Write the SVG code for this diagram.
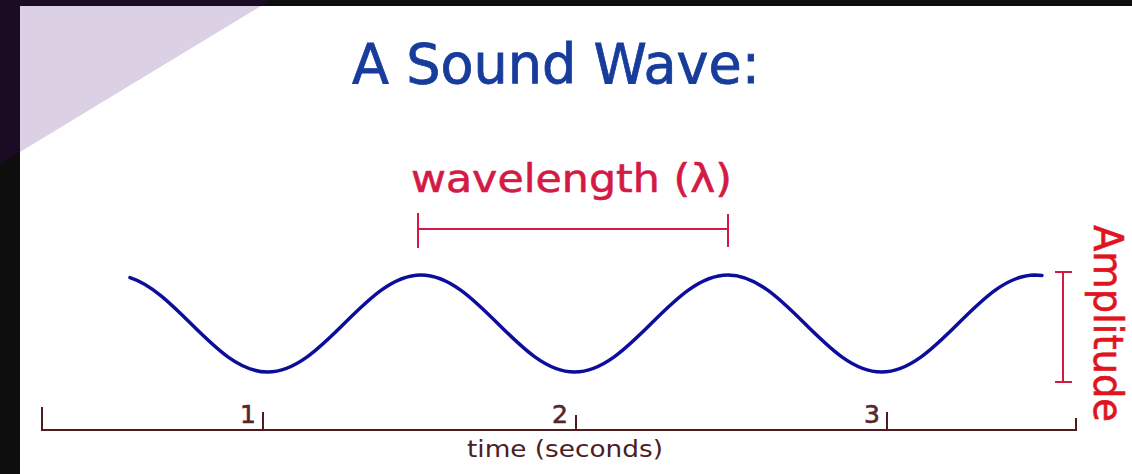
<svg xmlns="http://www.w3.org/2000/svg" width="1132" height="474" viewBox="0 0 1132 474">
  <style>
    .lbl { font-family: "DejaVu Sans", "Liberation Sans", sans-serif; }
    .red { stroke: #d31a45; stroke-width: 2; fill: none; }
    .axis { stroke: #4e1c1f; stroke-width: 2; fill: none; stroke-linecap: square; }
    .num { font-size: 25px; fill: #55262b; text-anchor: middle; }
  </style>
  <g id="background">
    <rect x="0" y="0" width="1132" height="474" fill="#0e0e0e"/>
    <polygon points="0,0 270,0 0,164" fill="#1b0b23"/>
    <rect x="20" y="6" width="1112" height="468" fill="#ffffff"/>
    <polygon points="20,6 261,6 20,152" fill="#dcd0e5"/>
  </g>
  <g id="title">
    <text class="lbl" x="352" y="83" font-size="55" fill="#173c9c" stroke="#173c9c" stroke-width="0.8" textLength="408" lengthAdjust="spacingAndGlyphs">A Sound Wave:</text>
  </g>
  <g id="wave">
    <path d="M130,277.6 C178.2,293.1 217.2,372 267.5,372 C323.3,372 365.2,275 421,275 C476.8,275 518.7,372 574.5,372 C630.3,372 672.2,275 728,275 C783.8,275 825.7,372 881.5,372 C937.3,372 979.2,275 1035,275 L1042,275.5" fill="none" stroke="#0d0d9c" stroke-width="3.5" stroke-linecap="round"/>
  </g>
  <g id="wavelength">
    <text class="lbl" x="411" y="192" font-size="39" fill="#d31a45" stroke="#d31a45" stroke-width="0.6" textLength="321" lengthAdjust="spacingAndGlyphs">wavelength (λ)</text>
    <path class="red" d="M418,213 V248 M418,229 H728 M728,214 V247"/>
  </g>
  <g id="amplitude">
    <path class="red" d="M1063,272 V382 M1055,272 H1072 M1055,382 H1072"/>
    <text class="lbl" transform="translate(1094,225) rotate(90)" x="0" y="0" font-size="40" fill="#e0141e" stroke="#e0141e" stroke-width="0.6" textLength="197" lengthAdjust="spacingAndGlyphs">Amplitude</text>
  </g>
  <g id="time-axis">
    <path class="axis" d="M42,408 V430 H1076 V419 M263,413 V430 M576,416 V430 M887,413 V430"/>
    <text class="lbl num" x="248" y="423" stroke="#55262b" stroke-width="0.6">1</text>
    <text class="lbl num" x="560" y="423" stroke="#55262b" stroke-width="0.6">2</text>
    <text class="lbl num" x="872" y="423" stroke="#55262b" stroke-width="0.6">3</text>
    <text class="lbl" x="467" y="457" font-size="23" fill="#4a2024" textLength="196" lengthAdjust="spacingAndGlyphs">time (seconds)</text>
  </g>
</svg>
